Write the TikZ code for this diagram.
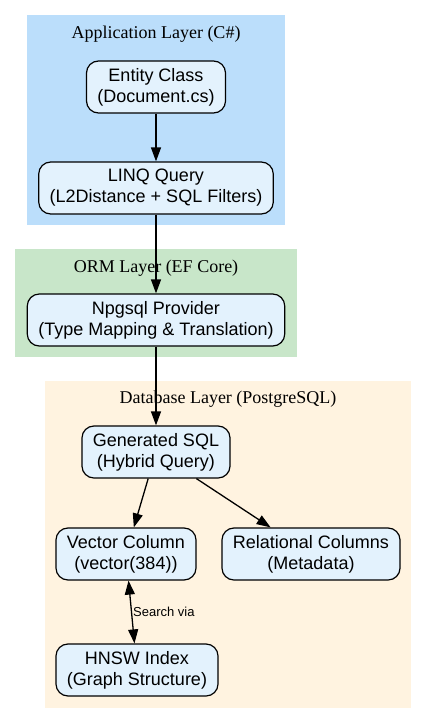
\documentclass[tikz,border=0pt]{standalone}
\usepackage{fontspec}
\setmainfont{Liberation Serif}
\setsansfont{Liberation Sans}
\usetikzlibrary{arrows.meta}
\definecolor{appblue}{HTML}{BBDEFB}
\definecolor{ormgreen}{HTML}{C8E6C9}
\definecolor{dbcream}{HTML}{FFF3E0}
\definecolor{boxblue}{HTML}{E3F2FD}
\tikzset{
  box/.style={draw=black, fill=boxblue, rounded corners=12pt, line width=1.2pt,
    align=center, font=\sffamily\fontsize{18}{21}\selectfont,
    minimum height=52pt, inner xsep=11pt, inner ysep=4pt},
  layer/.style={font=\rmfamily\fontsize{18}{21}\selectfont},
  flow/.style={line width=1.3pt, -{Triangle[length=14pt,width=10pt]}},
  twoway/.style={line width=1.3pt, {Triangle[length=14pt,width=10pt]}-{Triangle[length=14pt,width=10pt]}},
  tag/.style={font=\sffamily\fontsize{13}{15}\selectfont, inner sep=1pt}
}
\begin{document}
\begin{tikzpicture}[x=1pt,y=-1pt]
\useasboundingbox (0,0) rectangle (427,723);

% layers
\fill[appblue] (27,15) rectangle (285,225);
\fill[ormgreen] (15,249) rectangle (297,357);
\fill[dbcream] (45,381) rectangle (411,708);
\node[layer] (applbl) at (156,34) {Application Layer (C\#)};
\node[layer] (ormlbl) at (156,268) {ORM Layer (EF Core)};
\node[layer] (dblbl) at (228,399) {Database Layer (PostgreSQL)};

% nodes
\node[box] (entity) at (156,87) {Entity Class\\(Document.cs)};
\node[box] (linq) at (156,188) {LINQ Query\\(L2Distance + SQL Filters)};
\node[box] (npgsql) at (156,320) {Npgsql Provider\\(Type Mapping \& Translation)};
\node[box] (gensql) at (156,452) {Generated SQL\\(Hybrid Query)};
\node[box] (vector) at (126,554) {Vector Column\\(vector(384))};
\node[box] (relcols) at (311,554) {Relational Columns\\(Metadata)};
\node[box] (hnsw) at (137,670) {HNSW Index\\(Graph Structure)};

% edges
\draw[flow] (entity) -- (linq);
\draw[flow] (linq) -- (npgsql);
\draw[flow] (npgsql) -- (gensql);
\draw[flow] (gensql) -- (vector);
\draw[flow] (gensql) -- (relcols);
\draw[twoway] (vector) -- node[tag,right] {Search via} (hnsw);
\end{tikzpicture}
\end{document}
